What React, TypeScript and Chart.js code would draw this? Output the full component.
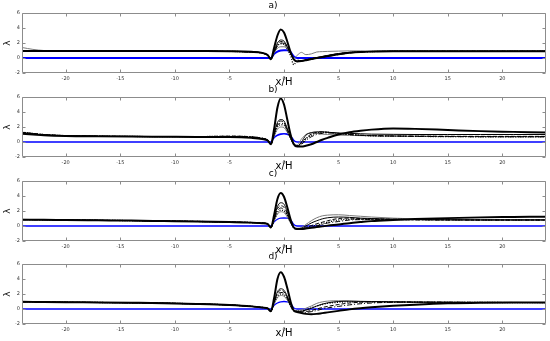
import { useEffect, useRef } from "react";
import { Chart, registerables } from "chart.js";
Chart.register(...registerables);

const FONT = "DejaVu Sans";

const xs = [-24, -23, -22, -20, -17, -14, -11, -8, -5, -3, -2, -1.5, -1.2, -0.9, -0.6, -0.3, 0, 0.3, 0.6, 0.9, 1.2, 1.6, 2, 2.5, 3, 3.5, 4, 5, 6, 7, 8, 10, 12, 15, 18, 21, 24];
const xTicks = [-20, -15, -10, -5, 0, 5, 10, 15, 20];
const yTicks = [-2, 0, 2, 4, 6];
const panelTitles = ["a)", "b)", "c)", "d)"];
const xLabel = "x/H";
const yLabel = "λ";

// Panel a
const aThick = [0.95,0.95,0.95,0.95,0.95,0.95,0.95,0.93,0.9,0.82,0.68,0.4, -0.15,1.4,3.0,3.8,3.4,2.2,0.8,-0.2,-0.45, -0.4,-0.3,-0.15,0.0,0.12,0.25,0.5,0.7,0.8,0.85,0.9,0.9,0.9,0.9,0.9,0.9];
const aThin = [0.92,0.92,0.92,0.92,0.92,0.92,0.92,0.9,0.88,0.8,0.66,0.38, -0.15,1.0,2.0,2.4,2.25,1.5,0.6,-0.2,-0.45, -0.4,-0.25,-0.1,0.05,0.2,0.35,0.6,0.75,0.85,0.88,0.9,0.9,0.9,0.9,0.9,0.9];
const aDash = [0.9,0.9,0.9,0.9,0.9,0.9,0.9,0.9,0.88,0.8,0.66,0.38, -0.15,0.9,1.8,2.2,2.1,1.5,0.7,-0.1,-0.4, -0.35,-0.25,-0.1,0.05,0.15,0.3,0.55,0.72,0.82,0.86,0.9,0.9,0.9,0.9,0.9,0.9];
const aDashDot = [0.88,0.88,0.88,0.88,0.88,0.88,0.88,0.88,0.86,0.78,0.64,0.36, -0.15,0.8,1.6,2.0,1.95,1.4,0.65,-0.15,-0.4, -0.4,-0.3,-0.15,0.0,0.1,0.22,0.45,0.65,0.78,0.84,0.88,0.9,0.9,0.9,0.9,0.9];
const aDot = [0.9,0.9,0.9,0.9,0.9,0.9,0.9,0.9,0.88,0.8,0.66,0.38, -0.15,0.8,1.6,1.9,1.8,1.2,0.3,-0.9,-0.3, -0.35,-0.25,-0.12,0.02,0.15,0.3,0.55,0.72,0.82,0.86,0.9,0.9,0.9,0.9,0.9,0.9];
const aGray = [1.4,1.15,1.0,0.95,0.95,0.95,0.95,0.93,0.9,0.82,0.68,0.4, -0.1,0.7,1.3,1.5,1.5,1.15,0.55,0.0,0.35, 0.75,0.45,0.55,0.8,0.85,0.88,0.92,0.95,0.95,0.93,0.92,0.9,0.9,0.9,0.9,0.9];
const aBlue = [0,0,0,0,0,0,0,0,0,0,0,0, 0,0.55,0.85,1.0,1.05,1.05,0.8,0.2,0, 0,0,0,0,0,0,0,0,0,0,0,0,0,0,0,0];

// Panel b
const bThick = [1.1,1.0,0.9,0.8,0.75,0.72,0.7,0.68,0.66,0.55,0.4,0.2, -0.3,1.8,4.6,5.8,5.0,3.0,1.0,-0.3,-0.6, -0.6,-0.5,-0.3,0.0,0.3,0.55,1.0,1.3,1.5,1.65,1.8,1.75,1.6,1.45,1.35,1.25];
const bThin = [1.25,1.1,0.95,0.85,0.78,0.74,0.72,0.7,0.7,0.6,0.45,0.25, -0.3,1.2,2.6,3.0,2.8,1.8,0.6,-0.3,-0.55, 0.0,0.9,1.25,1.35,1.35,1.3,1.2,1.15,1.1,1.05,1.02,1.0,1.0,1.0,1.0,1.0];
const bDash = [1.3,1.15,1.0,0.85,0.78,0.74,0.72,0.72,0.78,0.7,0.5,0.28, -0.3,1.1,2.4,2.8,2.6,1.7,0.6,-0.3,-0.55, -0.1,0.5,1.05,1.3,1.35,1.3,1.15,1.0,0.9,0.85,0.8,0.78,0.76,0.75,0.75,0.75];
const bDashDot = [1.2,1.1,0.95,0.85,0.78,0.74,0.72,0.72,0.75,0.68,0.5,0.25, -0.3,1.0,2.2,2.5,2.4,1.6,0.55,-0.3,-0.5, -0.3,0.2,0.7,1.0,1.15,1.2,1.15,1.0,0.9,0.85,0.8,0.75,0.72,0.7,0.7,0.7];
const bDot = [1.3,1.15,1.0,0.85,0.78,0.74,0.72,0.72,0.76,0.68,0.5,0.25, -0.3,0.9,2.0,2.3,2.2,1.5,0.5,-0.3,-0.5, -0.2,0.4,0.9,1.2,1.3,1.28,1.15,1.0,0.9,0.82,0.78,0.75,0.72,0.7,0.7,0.7];
const bGray = [1.2,1.05,0.95,0.85,0.78,0.74,0.72,0.7,0.7,0.6,0.45,0.25, -0.25,0.8,1.7,2.0,1.9,1.3,0.5,-0.2,-0.4, 0.4,1.0,1.2,1.15,1.05,1.0,0.92,0.88,0.85,0.82,0.8,0.78,0.75,0.72,0.7,0.7];
const bBlue = [0,0,0,0,0,0,0,0,0,0,0,0, 0,0.6,0.9,1.05,1.1,1.05,0.8,0.2,0, 0,0,0,0,0,0,0,0,0,0,0,0,0,0,0,0];

// Panel c
const cThick = [0.85,0.84,0.83,0.8,0.76,0.72,0.66,0.6,0.52,0.45,0.38,0.28, -0.2,1.5,3.6,4.4,3.9,2.5,0.9,-0.2,-0.4, -0.4,-0.35,-0.25,-0.15,-0.05,0.05,0.2,0.38,0.52,0.65,0.8,0.92,1.05,1.15,1.2,1.25];
const cThin = [0.88,0.86,0.84,0.8,0.76,0.72,0.66,0.6,0.52,0.45,0.38,0.28, -0.2,1.1,2.6,3.1,2.9,1.9,0.7,-0.2,-0.4, -0.3,0.0,0.4,0.7,0.95,1.1,1.2,1.15,1.05,1.0,0.9,0.85,0.82,0.8,0.8,0.8];
const cDash = [0.86,0.85,0.84,0.81,0.77,0.73,0.68,0.62,0.55,0.48,0.4,0.3, -0.2,1.0,2.3,2.7,2.5,1.7,0.6,-0.2,-0.4, -0.35,-0.2,0.05,0.3,0.5,0.7,1.0,1.05,1.0,0.95,0.9,0.85,0.82,0.8,0.8,0.8];
const cDashDot = [0.84,0.83,0.82,0.79,0.75,0.71,0.65,0.59,0.51,0.44,0.37,0.27, -0.2,0.9,2.0,2.4,2.2,1.5,0.5,-0.25,-0.4, -0.4,-0.3,-0.15,0.0,0.2,0.4,0.6,0.8,0.85,0.85,0.85,0.82,0.8,0.8,0.8,0.8];
const cDot = [0.86,0.85,0.83,0.8,0.76,0.72,0.67,0.61,0.53,0.46,0.39,0.29, -0.2,0.8,1.8,2.1,2.0,1.4,0.5,-0.25,-0.4, -0.35,-0.25,-0.05,0.1,0.3,0.5,0.8,0.9,0.9,0.9,0.88,0.85,0.82,0.8,0.8,0.8];
const cGray = [0.87,0.85,0.83,0.8,0.76,0.72,0.66,0.6,0.52,0.45,0.38,0.28, -0.2,0.7,1.6,1.9,1.8,1.2,0.4,-0.2,-0.3, -0.2,0.2,0.7,1.1,1.35,1.45,1.5,1.4,1.3,1.2,1.05,0.95,0.9,0.88,0.85,0.85];
const cBlue = [0,0,0,0,0,0,0,0,0,0,0,0, 0,0.55,0.9,1.05,1.07,1.05,0.8,0.2,0, 0,0,0,0,0,0,0,0,0,0,0,0,0,0,0,0];

// Panel d
const dThick = [0.97,0.95,0.93,0.9,0.87,0.83,0.78,0.68,0.53,0.35,0.2,0.08, -0.3,1.5,4.0,4.9,4.3,2.8,1.0,-0.2,-0.4, -0.55,-0.65,-0.7,-0.65,-0.55,-0.45,-0.25,-0.05,0.1,0.22,0.42,0.58,0.76,0.84,0.86,0.86];
const dThin = [0.95,0.94,0.92,0.9,0.87,0.83,0.78,0.68,0.53,0.35,0.2,0.08, -0.3,1.0,2.3,2.7,2.5,1.7,0.6,-0.2,-0.35, -0.3,-0.15,0.1,0.4,0.65,0.82,1.0,1.05,1.02,1.0,0.95,0.92,0.9,0.88,0.87,0.86];
const dDash = [0.98,0.96,0.94,0.91,0.88,0.84,0.79,0.7,0.55,0.37,0.22,0.1, -0.3,1.0,2.1,2.5,2.3,1.6,0.5,-0.25,-0.35, -0.4,-0.35,-0.2,0.0,0.2,0.35,0.6,0.8,0.9,0.95,0.95,0.92,0.9,0.88,0.87,0.86];
const dDashDot = [0.96,0.94,0.92,0.89,0.86,0.82,0.77,0.67,0.52,0.34,0.19,0.07, -0.3,0.9,1.9,2.2,2.1,1.5,0.5,-0.25,-0.4, -0.45,-0.45,-0.35,-0.2,0.0,0.15,0.35,0.55,0.7,0.8,0.9,0.92,0.9,0.88,0.87,0.86];
const dDot = [0.97,0.95,0.93,0.9,0.87,0.83,0.78,0.69,0.54,0.36,0.21,0.09, -0.3,0.8,1.7,2.0,1.9,1.3,0.4,-0.25,-0.3, -0.25,-0.1,0.15,0.4,0.6,0.75,0.9,0.95,0.95,0.95,0.92,0.9,0.88,0.87,0.86,0.86];
const dGray = [0.96,0.94,0.92,0.9,0.87,0.83,0.78,0.68,0.53,0.35,0.2,0.08, -0.25,0.7,1.5,1.8,1.7,1.2,0.4,-0.2,-0.2, -0.1,0.1,0.4,0.75,0.95,1.05,1.1,1.05,1.0,0.98,0.95,0.92,0.9,0.88,0.87,0.86];
const dBlue = [0,0,0,0,0,0,0,0,0,0,0,0, 0,0.5,0.8,0.95,1.0,0.95,0.75,0.15,0, 0,0,0,0,0,0,0,0,0,0,0,0,0,0,0,0];

const panels = [
  { thick: aThick, thin: aThin, dash: aDash, dashDot: aDashDot, dot: aDot, gray: aGray, blue: aBlue },
  { thick: bThick, thin: bThin, dash: bDash, dashDot: bDashDot, dot: bDot, gray: bGray, blue: bBlue },
  { thick: cThick, thin: cThin, dash: cDash, dashDot: cDashDot, dot: cDot, gray: cGray, blue: cBlue },
  { thick: dThick, thin: dThin, dash: dDash, dashDot: dDashDot, dot: dDot, gray: dGray, blue: dBlue },
];

const canvasTops = [0, 84, 168, 251];
const blueWidths = [2, 1.6, 1.3, 1.3];

const boxPlugin = {
  id: "boxTicks",
  afterDatasetsDraw(chart: any) {
    const { ctx, chartArea, scales } = chart;
    const { left, right, top, bottom } = chartArea;
    const xs_ = scales.x;
    const ys_ = scales.y;
    ctx.save();
    ctx.strokeStyle = "#8c8c8c";
    ctx.lineWidth = 1;
    ctx.beginPath();
    const L = Math.round(left) + 0.5;
    const R = Math.round(right) - 0.5;
    const T = Math.round(top) + 0.5;
    const B = Math.round(bottom) - 0.5;
    ctx.rect(L, T, R - L, B - T);
    const tl = 3;
    for (const v of xTicks) {
      const px = Math.round(xs_.getPixelForValue(v)) + 0.5;
      ctx.moveTo(px, B);
      ctx.lineTo(px, B - tl);
      ctx.moveTo(px, T);
      ctx.lineTo(px, T + tl);
    }
    for (const v of yTicks) {
      const py = Math.round(ys_.getPixelForValue(v)) + 0.5;
      ctx.moveTo(L, py);
      ctx.lineTo(L + tl, py);
      ctx.moveTo(R, py);
      ctx.lineTo(R - tl, py);
    }
    ctx.stroke();
    ctx.restore();
  },
};

function Panel({ idx }: { idx: number }) {
  const ref = useRef<HTMLCanvasElement | null>(null);
  useEffect(() => {
    const p = panels[idx];
    const mk = (arr: number[]) => xs.map((x, i) => ({ x, y: arr[i] }));
    const chart = new Chart(ref.current as HTMLCanvasElement, {
      type: "line",
      data: {
        datasets: [
          { data: mk(p.thick), borderColor: "#000000", borderWidth: 2 },
          { data: mk(p.thin), borderColor: "#000000", borderWidth: 1 },
          { data: mk(p.dash), borderColor: "#000000", borderWidth: 1, borderDash: [4, 2] },
          { data: mk(p.dashDot), borderColor: "#000000", borderWidth: 1, borderDash: [5, 2, 1, 2] },
          { data: mk(p.dot), borderColor: "#000000", borderWidth: 1.3, borderDash: [1, 1.5] },
          { data: mk(p.gray), borderColor: "#7a7a7a", borderWidth: 1 },
          { data: mk(p.blue), borderColor: "#0000ff", borderWidth: blueWidths[idx] },
        ],
      },
      options: {
        responsive: false,
        maintainAspectRatio: false,
        animation: false,
        elements: {
          point: { radius: 0 },
          line: { cubicInterpolationMode: "monotone", fill: false },
        },
        layout: { padding: { left: 0, right: 4, top: 0, bottom: 0 } },
        plugins: {
          legend: { display: false },
          tooltip: { enabled: false },
          title: {
            display: true,
            text: panelTitles[idx],
            color: "#000",
            font: { family: FONT, size: 9, weight: "normal", lineHeight: 1 },
            padding: { top: 1, bottom: 3 },
          },
        },
        scales: {
          x: {
            type: "linear",
            min: -24,
            max: 24,
            afterBuildTicks: (s: any) => {
              s.ticks = xTicks.map((v) => ({ value: v }));
            },
            afterFit: (s: any) => {
              s.height = 23;
            },
            grid: { display: false, drawTicks: false },
            border: { display: false },
            ticks: {
              font: { family: FONT, size: 5 },
              color: "#333",
              padding: 3,
              maxRotation: 0,
              autoSkip: false,
            },
            title: {
              display: true,
              text: xLabel,
              color: "#000",
              font: { family: FONT, size: 10, lineHeight: 1 },
              padding: { top: 0, bottom: 9 },
            },
          },
          y: {
            type: "linear",
            min: -2,
            max: 6,
            afterBuildTicks: (s: any) => {
              s.ticks = yTicks.map((v) => ({ value: v }));
            },
            afterFit: (s: any) => {
              s.width = 22;
            },
            grid: { display: false, drawTicks: false },
            border: { display: false },
            ticks: {
              font: { family: FONT, size: 5 },
              color: "#333",
              padding: 2,
            },
            title: {
              display: true,
              text: yLabel,
              color: "#000",
              font: { family: FONT, size: 9, lineHeight: 1 },
              padding: { top: 3, bottom: 0 },
            },
          },
        },
      } as any,
      plugins: [boxPlugin],
    });
    return () => chart.destroy();
  }, [idx]);
  return (
    <canvas
      ref={ref}
      width={550}
      height={96}
      style={{ position: "absolute", left: 0, top: canvasTops[idx], width: 550, height: 96 }}
    />
  );
}

export default function App() {
  return (
    <div style={{ position: "absolute", left: 0, top: 0, width: 550, height: 341, background: "#fff" }}>
      {[0, 1, 2, 3].map((i) => (
        <Panel key={i} idx={i} />
      ))}
    </div>
  );
}
